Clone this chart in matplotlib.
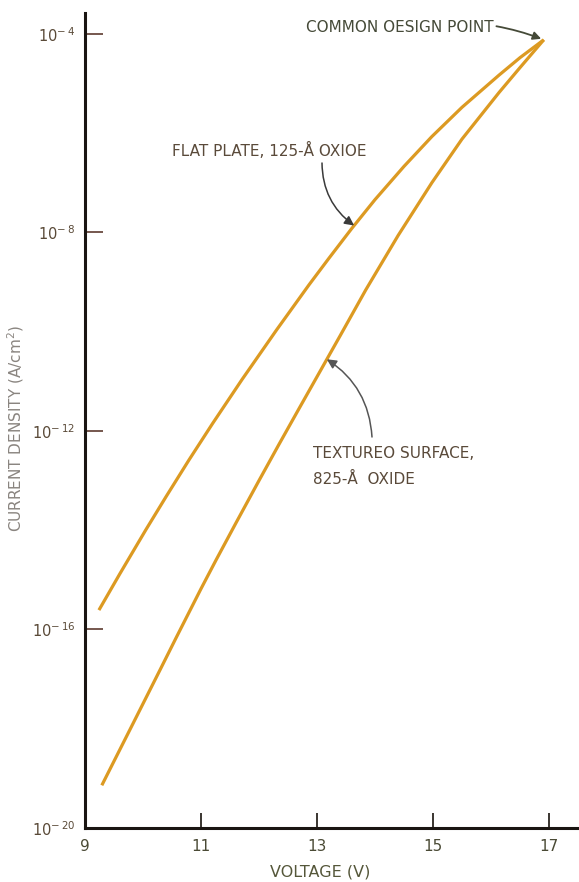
import numpy as np
import matplotlib
matplotlib.use("Agg")
import matplotlib.pyplot as plt

# values (voltage in V, log10 of current density)
flat_v = [9.24, 9.6, 10.05, 10.4, 10.79, 11.2, 11.71, 12.3, 12.86, 13.2,
          13.6, 14.0, 14.5, 14.98, 15.5, 16.14, 16.5, 16.91]
flat_logj = [-15.61, -14.88, -13.99, -13.32, -12.59, -11.85, -10.96, -9.97, -9.06, -8.53,
             -7.92, -7.34, -6.67, -6.07, -5.48, -4.83, -4.48, -4.12]

tex_v = [9.29, 9.8, 10.3, 10.57, 11.0, 11.26, 11.6, 12.0, 12.34, 12.7,
         12.98, 13.4, 13.84, 14.4, 14.98, 15.5, 16.14, 16.5, 16.91]
tex_logj = [-19.14, -17.96, -16.8, -16.17, -15.18, -14.6, -13.86, -13.0, -12.28, -11.53,
            -10.95, -10.08, -9.16, -8.06, -7.0, -6.12, -5.18, -4.68, -4.12]

xticks = [9, 11, 13, 15, 17]
yexp = [-20, -16, -12, -8, -4]

plt.rcParams['font.family'] = ['DejaVu Sans']
plt.rcParams['mathtext.fontset'] = 'dejavusans'

W, H = 579, 882
fig = plt.figure(figsize=(W / 100, H / 100), dpi=100)

def fx(px):
    return px / W

def fy(py):
    return 1 - py / H

ax = fig.add_axes([fx(85), fy(828), fx(579) - fx(85), fy(13) - fy(828)])

orange = '#DC9A22'
ax.plot(flat_v, 10.0 ** np.array(flat_logj), color=orange, lw=2.3,
        solid_capstyle='butt', solid_joinstyle='round')
ax.plot(tex_v, 10.0 ** np.array(tex_logj), color=orange, lw=2.3,
        solid_capstyle='butt', solid_joinstyle='round')

ax.set_yscale('log')
ax.set_xlim(9, 9 + (579 - 85) / 58.0)
ax.set_ylim(1e-20, 10 ** -3.58)

for s in ['top', 'right']:
    ax.spines[s].set_visible(False)
for s in ['left', 'bottom']:
    ax.spines[s].set_linewidth(2.2)
    ax.spines[s].set_color('#1a1512')

ax.set_xticks(xticks)
ax.set_xticklabels([str(v) for v in xticks])
ax.set_yticks([10.0 ** e for e in yexp])
ax.set_yticklabels(['10$^{-\\,%d}$' % (-e) for e in yexp])
ax.minorticks_off()
ax.tick_params(axis='x', direction='in', length=11, width=1.3, color='#2a2520',
               pad=8, labelsize=11, labelcolor='#4a4a35')
ax.tick_params(axis='y', direction='in', length=13, width=1.3, color='#6a4a40',
               pad=7, labelsize=10.5, labelcolor='#5a4a38')

fig.text(fx(320), fy(872), 'VOLTAGE (V)', ha='center', va='center',
         fontsize=11.5, color='#55573a')
fig.text(fx(16), fy(428), 'CURRENT DENSITY (A/cm$^2$)', ha='center', va='center',
         rotation=90, fontsize=11, color='#8a8580')

# annotations
ax.annotate('COMMON OESIGN POINT', xy=(flat_v[-1], 10.0 ** flat_logj[-1]),
            xytext=(fx(306), fy(28)), textcoords='figure fraction',
            ha='left', va='center', fontsize=11, color='#454a38',
            arrowprops=dict(arrowstyle='-|>', color='#454a38', lw=1.3,
                            connectionstyle='arc3,rad=-0.15',
                            shrinkA=78, shrinkB=2, mutation_scale=12))

v_flat = 13.64
ax.annotate('', xy=(v_flat, 10.0 ** np.interp(v_flat, flat_v, flat_logj)),
            xytext=(fx(322), fy(163)), textcoords='figure fraction',
            arrowprops=dict(arrowstyle='-|>', color='#3a3a3a', lw=1.1,
                            connectionstyle='arc3,rad=0.25',
                            shrinkA=0, shrinkB=0, mutation_scale=14))
fig.text(fx(172), fy(150), 'FLAT PLATE, 125-Å OXIOE', ha='left', va='center',
         fontsize=11, color='#5a4a3a')

v_tex = 13.17
ax.annotate('', xy=(v_tex, 10.0 ** np.interp(v_tex, tex_v, tex_logj)),
            xytext=(fx(372), fy(437)), textcoords='figure fraction',
            arrowprops=dict(arrowstyle='-|>', color='#555555', lw=1.1,
                            connectionstyle='arc3,rad=0.25',
                            shrinkA=0, shrinkB=0, mutation_scale=14))
fig.text(fx(313), fy(453), 'TEXTUREO SURFACE,', ha='left', va='center',
         fontsize=11, color='#5a4a3a')
fig.text(fx(313), fy(479), '825-Å  OXIDE', ha='left', va='center',
         fontsize=11, color='#5a4a3a')

fig.savefig('out.png', dpi=100)
